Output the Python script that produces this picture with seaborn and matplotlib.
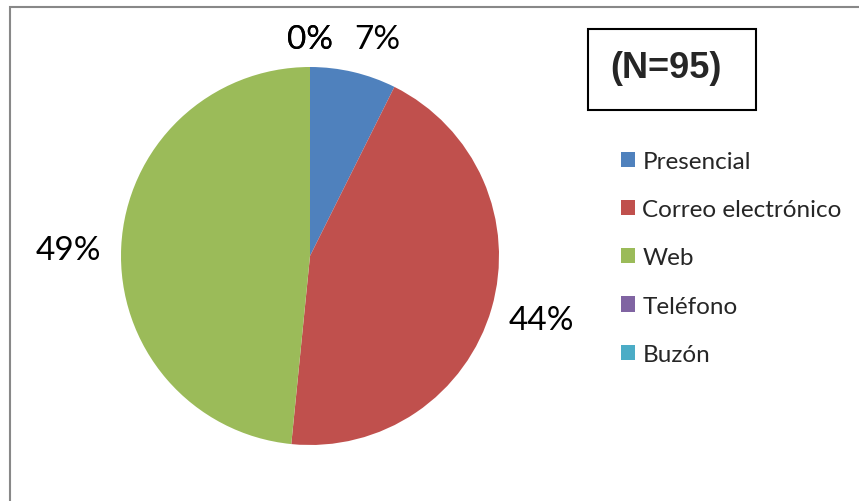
import numpy as np
import matplotlib
matplotlib.use("Agg")
import matplotlib.pyplot as plt
from matplotlib.patches import Rectangle
import seaborn as sns

categorias = ["Presencial", "Correo electrónico", "Web", "Teléfono", "Buzón"]
conteos = [7, 42, 46, 0, 0]
etiquetas = ["7%", "44%", "49%", "0%", "0%"]
colores = ["#4F81BD", "#C0504D", "#9BBB59", "#8064A2", "#4BACC6"]
n_total = 95

sns.set_theme(style="white")
plt.rcParams["font.family"] = ["Lato", "DejaVu Sans"]

W, H = 859, 502
fig = plt.figure(figsize=(W / 100, H / 100), dpi=100)

# === Marco del area del grafico ===
fig.patches.append(Rectangle((9.5 / W, -0.1), 1.2, (H - 7.5) / H + 0.1,
                             transform=fig.transFigure, fill=False,
                             edgecolor="#888888", linewidth=1.5, clip_on=False))

# === Pie ===
cx, cy, r = 310, 257, 189
ax = fig.add_axes([(cx - r) / W, (H - cy - r) / H, 2 * r / W, 2 * r / H])
wedges, _ = ax.pie(conteos, colors=colores, startangle=90, counterclock=False,
                   radius=1, wedgeprops=dict(linewidth=0))
ax.set_xlim(-1, 1)
ax.set_ylim(-1, 1)
ax.set_aspect("equal")
ax.axis("off")

# etiquetas de porcentaje fuera del pie
dist = [1.20, 1.27, 1.28, 1.15, 1.15]
shift = [3.9, -0.6, -1.5, 0, 0]
acum = 0
for i, v in enumerate(conteos):
    mid = (acum + v / 2) / sum(conteos) * 360 + shift[i]
    acum += v
    ang = np.deg2rad(90 - mid)
    ax.text(dist[i] * np.cos(ang), dist[i] * np.sin(ang), etiquetas[i],
            ha="center", va="center", fontsize=24, color="black")

# === Leyenda ===
leg = fig.legend(wedges, categorias, loc="upper left",
                 bbox_to_anchor=(599 / W, 1 - 130 / H), frameon=False,
                 fontsize=17.5, handlelength=0.58, handleheight=0.58,
                 handletextpad=0.3, labelspacing=1.12)

# === Caja N ===
fig.patches.append(Rectangle((588 / W, 1 - 111 / H), 168 / W, 81 / H,
                             transform=fig.transFigure, fill=False,
                             edgecolor="black", linewidth=1.5))
fig.text(666 / W, 1 - 69 / H, f"(N={n_total})", ha="center", va="center",
         fontsize=26, fontweight="bold", family=["Liberation Sans", "DejaVu Sans"])

fig.savefig("out.png", dpi=100)
